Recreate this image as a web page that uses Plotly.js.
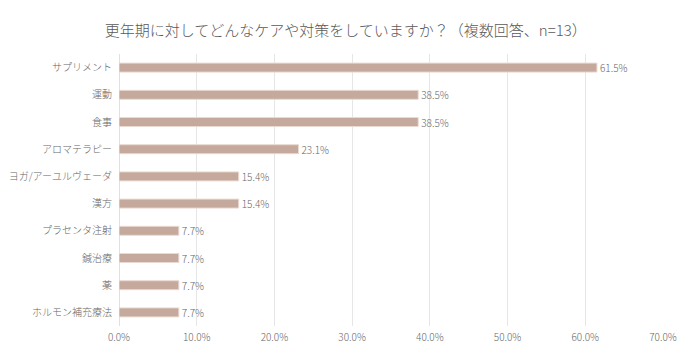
<!DOCTYPE html>
<html>
<head>
<meta charset="utf-8">
<script src="https://cdn.plot.ly/plotly-3.0.1.min.js"></script>
<style>html,body{margin:0;padding:0;background:#fff;}#chart{width:700px;height:356px;}</style>
</head>
<body>
<div id="chart"></div>
<script>
const categories = ["サプリメント","運動","食事","アロマテラピー","ヨガ/アーユルヴェーダ","漢方","プラセンタ注射","鍼治療","薬","ホルモン補充療法"];
const values = [61.5, 38.5, 38.5, 23.1, 15.4, 15.4, 7.7, 7.7, 7.7, 7.7];
const tickVals = [0, 10, 20, 30, 40, 50, 60, 70];
const tickText = ["0.0%","10.0%","20.0%","30.0%","40.0%","50.0%","60.0%","70.0%"];
const titleText = "更年期に対してどんなケアや対策をしていますか？（複数回答、n=13）";

const font = "Noto Sans CJK JP, sans-serif";
const txtColor = "#666666";
const trace = {
  type: "bar",
  orientation: "h",
  y: categories,
  x: values,
  text: values.map(v => v.toFixed(1) + "%"),
  textposition: "outside",
  constraintext: "none",
  cliponaxis: false,
  textfont: {family: font, size: 10, color: txtColor, weight: 300},
  marker: {color: "#c4a99c", line: {color: "#ead9d1", width: 1}},
  hoverinfo: "none"
};
const layout = {
  width: 700, height: 356,
  margin: {l: 119, r: 37, t: 54, b: 30},
  paper_bgcolor: "#fff", plot_bgcolor: "#fff",
  showlegend: false,
  bargap: 0.67,
  title: {text: titleText, font: {family: font, size: 15, color: "#595959", weight: 300}, x: 0.494, xanchor: "center", y: 0.915, yanchor: "middle"},
  xaxis: {
    range: [0, 70], tickvals: tickVals, ticktext: tickText,
    showgrid: true, gridcolor: "#e6e6e6", gridwidth: 1,
    zeroline: true, zerolinecolor: "#e0e0e0", zerolinewidth: 1,
    showline: false, ticks: "", ticklabelstandoff: 4,
    tickfont: {family: font, size: 10, color: txtColor, weight: 300}
  },
  yaxis: {
    autorange: "reversed", type: "category",
    showgrid: false, zeroline: false, showline: false, ticks: "", ticklen: 0,
    ticklabelstandoff: 6,
    tickfont: {family: font, size: 10, color: txtColor, weight: 300}
  }
};
Plotly.newPlot("chart", [trace], layout, {displayModeBar: false, staticPlot: true});
</script>
</body>
</html>
